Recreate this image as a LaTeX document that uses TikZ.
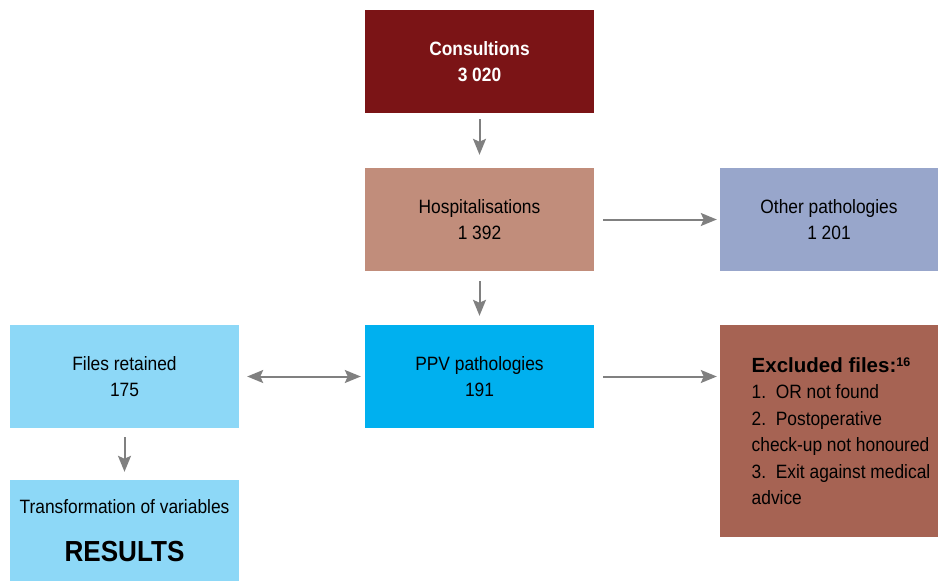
\documentclass[tikz,border=0pt]{standalone}
\usepackage{fontspec}
\setmainfont{Liberation Sans}[FakeStretch=0.9]
\newfontfamily\widefont{Liberation Sans}
\usepackage{xcolor}
\usetikzlibrary{arrows.meta}
\definecolor{consultred}{HTML}{7B1416}
\definecolor{hospbrown}{HTML}{C18D7B}
\definecolor{otherblue}{HTML}{98A6CB}
\definecolor{ppvblue}{HTML}{00B0EF}
\definecolor{filesblue}{HTML}{8DD8F7}
\definecolor{exclbrown}{HTML}{A66353}
\definecolor{arrowgray}{HTML}{808080}
\tikzset{box/.style={minimum width=229pt,minimum height=103pt,inner sep=0pt,
   align=center,font=\fontsize{19.3}{26.5}\selectfont},
 flow/.style={draw=arrowgray,line width=2pt,
   -{Stealth[length=16pt,width=13pt,inset=3pt]}},
 both/.style={draw=arrowgray,line width=2pt,
   {Stealth[length=16pt,width=13pt,inset=3pt]}-{Stealth[length=16pt,width=13pt,inset=3pt]}},
 }

\begin{document}
\begin{tikzpicture}[x=1pt,y=-1pt]
        \useasboundingbox (0,0) rectangle (938,581);
        \node[box, fill=consultred, text=white, font=\fontsize{19.3}{26.5}\selectfont\bfseries] (consult) at (479.5,61.5) {Consultions\\3 020};
        \node[box, fill=hospbrown] (hosp) at (479.5,219.5) {Hospitalisations\\1 392};
        \node[box, fill=otherblue, minimum width=218pt] (other) at (829,219.5) {Other pathologies\\1 201};
        \node[box, fill=ppvblue] (ppv) at (479.5,376.5) {PPV pathologies\\191};
        \node[box, fill=filesblue] (files) at (124.5,376.5) {Files retained\\175};
        \node[box, fill=filesblue, minimum height=101pt] (trans) at (124.5,530.5) {Transformation of variables\\[21pt]{\fontsize{29}{26}\selectfont\bfseries RESULTS}};
        \node[box, fill=exclbrown, minimum width=218pt, minimum height=212pt] (excl) at (829,431) {};
        % list of excluded files, set a little right of the box centre
        \node[box, minimum width=0pt, minimum height=0pt, align=left] (excltext) at ([xshift=12pt]excl.center)
          {{\widefont\fontsize{20.5}{26.5}\selectfont\bfseries Excluded files:\raisebox{6pt}{\fontsize{12.5}{12}\selectfont 16}}\\
           1.\ \ OR not found\\
           2.\ \ Postoperative\\
           check-up not honoured\\
           3.\ \ Exit against medical\\
           advice};
        \draw[flow, shorten <=6pt, shorten >=13pt] (consult) -- (hosp);
        \draw[flow, shorten <=10pt, shorten >=9pt] (hosp) -- (ppv);
        \draw[flow, shorten <=9pt, shorten >=3pt] (hosp) -- (other);
        \draw[flow, shorten <=9pt, shorten >=3pt] (ppv) -- (excl.west |- ppv);
        \draw[both, shorten <=8pt, shorten >=4pt] (files) -- (ppv);
        \draw[flow, shorten <=9pt, shorten >=8pt] (files) -- (trans);
    \end{tikzpicture}
\end{document}
